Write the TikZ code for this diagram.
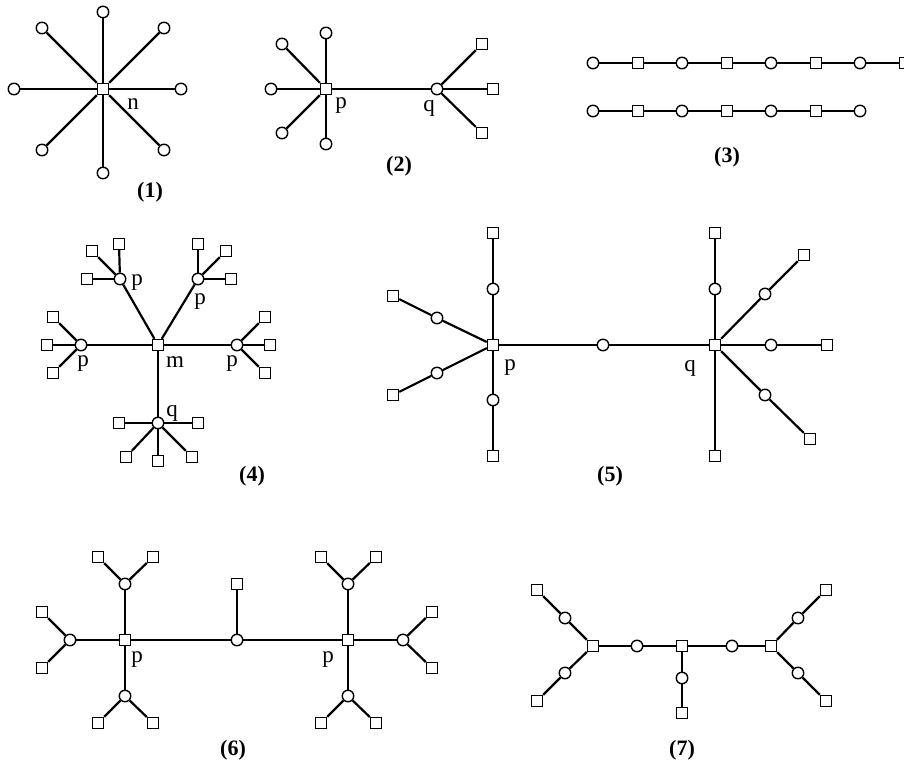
\documentclass[tikz,border=0pt]{standalone}
\usepackage{fontspec}
\setmainfont{Liberation Serif}
\usetikzlibrary{positioning}

\begin{document}
\begin{tikzpicture}[
			x=1pt, y=-1pt,
			knot/.style={circle, draw, fill=white, line width=1.4pt, minimum size=11.5pt, inner sep=0pt},
			sqbox/.style={rectangle, draw, fill=white, line width=1.4pt, minimum size=11pt, inner sep=0pt},
			lab/.style={font=\fontsize{23}{26}\selectfont, inner sep=0pt},
			figcap/.style={font=\fontsize{22}{26}\selectfont\bfseries, inner sep=0pt},
			wire/.style={line width=2.2pt},
			fine/.style={line width=1.5pt},
			]
			\useasboundingbox (0,0) rectangle (904,768);
			
			% (1) Stern
			\node[sqbox] (N) at (103,89) {};
			\node[knot] (Na) at (103,12) {};
			\node[knot] (Nb) at (164,28) {};
			\node[knot] (Nc) at (181,89) {};
			\node[knot] (Nd) at (164,150) {};
			\node[knot] (Ne) at (103,173) {};
			\node[knot] (Nf) at (42,150) {};
			\node[knot] (Ng) at (14,89) {};
			\node[knot] (Nh) at (42,28) {};
			\node[lab] (LabN) at (133,104) {n};
			\node[figcap] (Cap1) at (150,192) {(1)};
			\path[wire]
			(N) edge (Na) (N) edge (Nb) (N) edge (Nc) (N) edge (Nd)
			(N) edge (Ne) (N) edge (Nf) (N) edge (Ng) (N) edge (Nh)
			;
			
			% (2) zwei Zentren
			\node[sqbox] (P2) at (326,89) {};
			\node[knot] (P2a) at (326,33) {};
			\node[knot] (P2b) at (282,44) {};
			\node[knot] (P2c) at (271,89) {};
			\node[knot] (P2d) at (282,133) {};
			\node[knot] (P2e) at (326,144) {};
			\node[knot] (Q2) at (437,89) {};
			\node[sqbox] (Q2a) at (482,44) {};
			\node[sqbox] (Q2b) at (493,89) {};
			\node[sqbox] (Q2c) at (482,133) {};
			\node[lab] (LabP2) at (341,106) {p};
			\node[lab] (LabQ2) at (429,108) {q};
			\node[figcap] (Cap2) at (399,166) {(2)};
			\path[wire]
			(P2) edge (Q2)
			(P2) edge (P2a) (P2) edge (P2b) (P2) edge (P2c) (P2) edge (P2d) (P2) edge (P2e)
			(Q2) edge (Q2a) (Q2) edge (Q2b) (Q2) edge (Q2c)
			;
			
			% (3) Ketten
			\node[knot] (Ra) at (593,63) {};
			\node[sqbox] (Rb) at (638,63) {};
			\node[knot] (Rc) at (682,63) {};
			\node[sqbox] (Rd) at (727,63) {};
			\node[knot] (Re) at (771,63) {};
			\node[sqbox] (Rf) at (816,63) {};
			\node[knot] (Rg) at (860,63) {};
			\node[sqbox] (Rh) at (905,63) {};
			\node[knot] (Sa) at (593,111) {};
			\node[sqbox] (Sb) at (638,111) {};
			\node[knot] (Sc) at (682,111) {};
			\node[sqbox] (Sd) at (727,111) {};
			\node[knot] (Se) at (771,111) {};
			\node[sqbox] (Sf) at (816,111) {};
			\node[knot] (Sg) at (860,111) {};
			\node[figcap] (Cap3) at (727,157) {(3)};
			\path[fine]
			(Ra) edge (Rb) (Rb) edge (Rc) (Rc) edge (Rd) (Rd) edge (Re)
			(Re) edge (Rf) (Rf) edge (Rg) (Rg) edge (Rh)
			(Sa) edge (Sb) (Sb) edge (Sc) (Sc) edge (Sd) (Sd) edge (Se)
			(Se) edge (Sf) (Sf) edge (Sg)
			;
			
			% (4) Baum um m
			\node[sqbox] (M4) at (158,345) {};
			\node[knot] (PL4) at (81,345) {};
			\node[knot] (PR4) at (237,345) {};
			\node[knot] (PTL4) at (120,279) {};
			\node[knot] (PTR4) at (198,279) {};
			\node[knot] (Q4) at (158,423) {};
			\node[sqbox] (PTL4a) at (92,251) {};
			\node[sqbox] (PTL4b) at (119,244) {};
			\node[sqbox] (PTL4c) at (87,279) {};
			\node[sqbox] (PTR4a) at (198,244) {};
			\node[sqbox] (PTR4b) at (226,251) {};
			\node[sqbox] (PTR4c) at (231,279) {};
			\node[sqbox] (PL4a) at (53,317) {};
			\node[sqbox] (PL4b) at (47,345) {};
			\node[sqbox] (PL4c) at (53,373) {};
			\node[sqbox] (PR4a) at (265,317) {};
			\node[sqbox] (PR4b) at (270,345) {};
			\node[sqbox] (PR4c) at (265,373) {};
			\node[sqbox] (Q4a) at (119,423) {};
			\node[sqbox] (Q4b) at (198,423) {};
			\node[sqbox] (Q4c) at (126,457) {};
			\node[sqbox] (Q4d) at (158,461) {};
			\node[sqbox] (Q4e) at (192,457) {};
			\node[lab] (LabPTL4) at (137,283) {p};
			\node[lab] (LabPTR4) at (200,302) {p};
			\node[lab] (LabPL4) at (83,364) {p};
			\node[lab] (LabPR4) at (232,364) {p};
			\node[lab] (LabM4) at (175,362) {m};
			\node[lab] (LabQ4) at (172,413) {q};
			\node[figcap] (Cap4) at (252,476) {(4)};
			\path[wire]
			(M4) edge (PL4) (M4) edge (PR4) (M4) edge (PTL4) (M4) edge (PTR4) (M4) edge (Q4)
			(PTL4) edge (PTL4a) (PTL4) edge (PTL4b) (PTL4) edge (PTL4c)
			(PTR4) edge (PTR4a) (PTR4) edge (PTR4b) (PTR4) edge (PTR4c)
			(PL4) edge (PL4a) (PL4) edge (PL4b) (PL4) edge (PL4c)
			(PR4) edge (PR4a) (PR4) edge (PR4b) (PR4) edge (PR4c)
			(Q4) edge (Q4a) (Q4) edge (Q4b) (Q4) edge (Q4c) (Q4) edge (Q4d) (Q4) edge (Q4e)
			;
			
			% (5) p und q mit Zwischenknoten
			\node[sqbox] (P5) at (493,345) {};
			\node[knot] (C5) at (603,345) {};
			\node[sqbox] (Q5) at (715,345) {};
			\node[knot] (P5u) at (493,289) {};
			\node[sqbox] (P5U) at (493,233) {};
			\node[knot] (P5d) at (493,400) {};
			\node[sqbox] (P5D) at (493,456) {};
			\node[knot] (P5ul) at (437,318) {};
			\node[sqbox] (P5UL) at (393,296) {};
			\node[knot] (P5dl) at (437,373) {};
			\node[sqbox] (P5DL) at (393,395) {};
			\node[knot] (Q5u) at (715,289) {};
			\node[sqbox] (Q5U) at (715,233) {};
			\node[sqbox] (Q5D) at (715,456) {};
			\node[knot] (Q5ur) at (765,294) {};
			\node[sqbox] (Q5UR) at (804,255) {};
			\node[knot] (Q5r) at (771,345) {};
			\node[sqbox] (Q5R) at (827,345) {};
			\node[knot] (Q5dr) at (765,395) {};
			\node[sqbox] (Q5DR) at (810,439) {};
			\node[lab] (LabP5) at (510,368) {p};
			\node[lab] (LabQ5) at (690,368) {q};
			\node[figcap] (Cap5) at (610,476) {(5)};
			\path[wire]
			(P5) edge (C5) (C5) edge (Q5)
			(P5) edge (P5u) (P5u) edge (P5U) (P5) edge (P5d) (P5d) edge (P5D)
			(P5) edge (P5ul) (P5ul) edge (P5UL) (P5) edge (P5dl) (P5dl) edge (P5DL)
			(Q5) edge (Q5u) (Q5u) edge (Q5U) (Q5) edge (Q5D)
			(Q5) edge (Q5ur) (Q5ur) edge (Q5UR) (Q5) edge (Q5r) (Q5r) edge (Q5R)
			(Q5) edge (Q5dr) (Q5dr) edge (Q5DR)
			;
			
			% (6) zwei p mit Gabeln
			\node[sqbox] (PL6) at (125,640) {};
			\node[knot] (C6) at (237,640) {};
			\node[sqbox] (C6a) at (237,584) {};
			\node[sqbox] (PR6) at (348,640) {};
			\node[knot] (PL6u) at (125,584) {};
			\node[sqbox] (PL6ua) at (98,557) {};
			\node[sqbox] (PL6ub) at (153,557) {};
			\node[knot] (PL6l) at (70,640) {};
			\node[sqbox] (PL6la) at (42,612) {};
			\node[sqbox] (PL6lb) at (42,668) {};
			\node[knot] (PL6d) at (125,696) {};
			\node[sqbox] (PL6da) at (98,723) {};
			\node[sqbox] (PL6db) at (153,723) {};
			\node[knot] (PR6u) at (348,584) {};
			\node[sqbox] (PR6ua) at (321,557) {};
			\node[sqbox] (PR6ub) at (376,557) {};
			\node[knot] (PR6r) at (403,640) {};
			\node[sqbox] (PR6ra) at (432,612) {};
			\node[sqbox] (PR6rb) at (432,668) {};
			\node[knot] (PR6d) at (348,696) {};
			\node[sqbox] (PR6da) at (321,723) {};
			\node[sqbox] (PR6db) at (376,723) {};
			\node[lab] (LabPL6) at (137,660) {p};
			\node[lab] (LabPR6) at (328,660) {p};
			\node[figcap] (Cap6) at (233,750) {(6)};
			\path[wire]
			(PL6) edge (C6) (C6) edge (PR6) (C6) edge (C6a)
			(PL6) edge (PL6u) (PL6u) edge (PL6ua) (PL6u) edge (PL6ub)
			(PL6) edge (PL6l) (PL6l) edge (PL6la) (PL6l) edge (PL6lb)
			(PL6) edge (PL6d) (PL6d) edge (PL6da) (PL6d) edge (PL6db)
			(PR6) edge (PR6u) (PR6u) edge (PR6ua) (PR6u) edge (PR6ub)
			(PR6) edge (PR6r) (PR6r) edge (PR6ra) (PR6r) edge (PR6rb)
			(PR6) edge (PR6d) (PR6d) edge (PR6da) (PR6d) edge (PR6db)
			;
			
			% (7) kleiner Baum
			\node[sqbox] (L7) at (593,646) {};
			\node[knot] (L7m) at (637,646) {};
			\node[sqbox] (M7) at (682,646) {};
			\node[knot] (R7m) at (732,646) {};
			\node[sqbox] (R7) at (771,646) {};
			\node[knot] (M7d) at (682,678) {};
			\node[sqbox] (M7D) at (682,713) {};
			\node[knot] (L7u) at (565,618) {};
			\node[sqbox] (L7U) at (537,590) {};
			\node[knot] (L7d) at (565,673) {};
			\node[sqbox] (L7D) at (537,701) {};
			\node[knot] (R7u) at (798,618) {};
			\node[sqbox] (R7U) at (826,590) {};
			\node[knot] (R7d) at (798,673) {};
			\node[sqbox] (R7D) at (826,701) {};
			\node[figcap] (Cap7) at (682,750) {(7)};
			\path[wire]
			(L7) edge (L7m) (L7m) edge (M7) (M7) edge (R7m) (R7m) edge (R7)
			(M7) edge (M7d) (M7d) edge (M7D)
			(L7) edge (L7u) (L7u) edge (L7U) (L7) edge (L7d) (L7d) edge (L7D)
			(R7) edge (R7u) (R7u) edge (R7U) (R7) edge (R7d) (R7d) edge (R7D)
			;
			
		\end{tikzpicture}
\end{document}
